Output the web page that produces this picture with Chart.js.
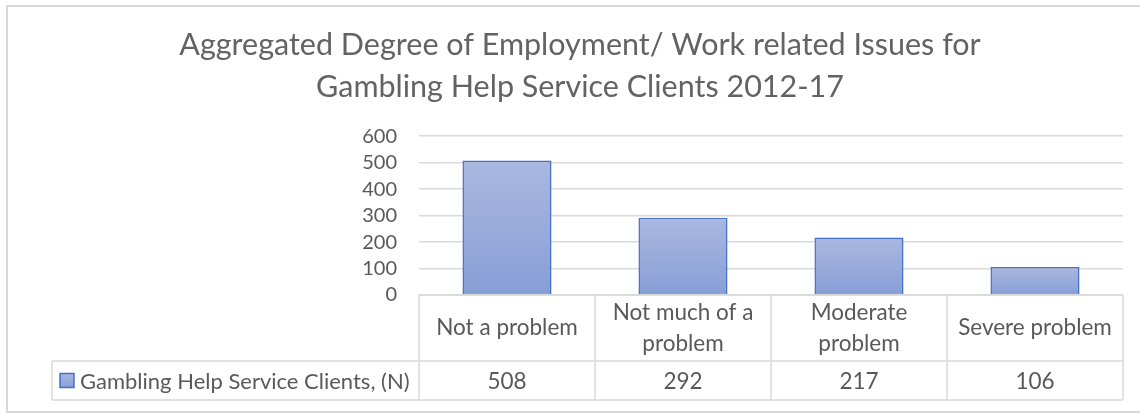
<!DOCTYPE html>
<html>
<head>
<meta charset="utf-8">
<title>Employment / Work related Issues</title>
<script src="https://cdn.jsdelivr.net/npm/chart.js@4/dist/chart.umd.min.js"></script>
<style>
  html, body { margin: 0; padding: 0; background: #fff; }
  #wrap { width: 1140px; height: 414px; }
</style>
</head>
<body>
<div id="wrap"><canvas id="chart" width="1140" height="414"></canvas></div>
<script>
// chart data
const categories = [
    ["Not a problem"],
    ["Not much of a", "problem"],
    ["Moderate", "problem"],
    ["Severe problem"]
];
const clients = [508, 292, 217, 106];
const seriesName = "Gambling Help Service Clients, (N)";
const titleLines = [
    "Aggregated Degree of Employment/ Work related Issues for",
    "Gambling Help Service Clients 2012-17"
];
const yTicks = [0, 100, 200, 300, 400, 500, 600];

const textColor = "#595959";
const lineColor = "#d9d9d9";
const fontFamily = "Lato, 'Noto Sans', sans-serif";

function barGradient(ctx, top, bottom) {
    const g = ctx.createLinearGradient(0, top, 0, bottom);
    g.addColorStop(0, "#aab8e0");
    g.addColorStop(1, "#879ed7");
    return g;
}

// draws the frame around the chart and the data table under the plot
const dataTable = {
    id: "dataTable",
    afterDraw(chart) {
        const ctx = chart.ctx;
        const area = chart.chartArea;
        const x = chart.scales.x;
        const catW = (area.right - area.left) / categories.length;
        const headTop = area.bottom;
        const rowTop = headTop + 66;
        const rowBottom = rowTop + 39;
        const legendLeft = 52;

        ctx.save();
        // outer frame
        ctx.strokeStyle = lineColor;
        ctx.lineWidth = 2;
        ctx.strokeRect(7, 6, 1160, 406);

        // table grid
        ctx.lineWidth = 1.5;
        ctx.beginPath();
        ctx.moveTo(area.left, headTop);
        ctx.lineTo(area.right, headTop);
        ctx.moveTo(legendLeft, rowTop);
        ctx.lineTo(area.right, rowTop);
        ctx.moveTo(legendLeft, rowBottom);
        ctx.lineTo(area.right, rowBottom);
        ctx.moveTo(legendLeft, rowTop);
        ctx.lineTo(legendLeft, rowBottom);
        for (let i = 0; i <= categories.length; i++) {
            const px = area.left + i * catW;
            ctx.moveTo(px, headTop);
            ctx.lineTo(px, rowBottom);
        }
        ctx.stroke();

        // category headers and values
        ctx.fillStyle = textColor;
        ctx.font = "22.5px " + fontFamily;
        ctx.textAlign = "center";
        ctx.textBaseline = "middle";
        const headMid = (headTop + rowTop) / 2;
        categories.forEach((lines, i) => {
            const cx = x.getPixelForValue(i);
            const lh = 31;
            const start = headMid - (lines.length - 1) * lh / 2;
            lines.forEach((t, j) => ctx.fillText(t, cx, start + j * lh));
            ctx.fillText(String(clients[i]), cx, (rowTop + rowBottom) / 2 + 1);
        });

        // legend key and series name
        const keyY = (rowTop + rowBottom) / 2 - 7;
        ctx.fillStyle = barGradient(ctx, keyY, keyY + 14);
        ctx.fillRect(60, keyY, 14, 14);
        ctx.strokeStyle = "#4472c4";
        ctx.lineWidth = 1.5;
        ctx.strokeRect(60, keyY, 14, 14);
        ctx.fillStyle = textColor;
        ctx.textAlign = "left";
        ctx.font = "22px " + fontFamily;
        ctx.fillText(seriesName, 80, (rowTop + rowBottom) / 2 + 1);
        ctx.restore();
    }
};

const ctx = document.getElementById("chart").getContext("2d");

new Chart(ctx, {
    type: "bar",
    data: {
        labels: categories,
        datasets: [{
            label: seriesName,
            data: clients,
            backgroundColor: function (context) {
                const chart = context.chart;
                if (!chart.chartArea) return "#98abdb";
                const top = chart.scales.y.getPixelForValue(context.raw);
                return barGradient(chart.ctx, top, chart.chartArea.bottom);
            },
            borderColor: "#4472c4",
            borderWidth: 1.5,
            borderSkipped: "bottom",
            categoryPercentage: 1,
            barPercentage: 0.506
        }]
    },
    options: {
        responsive: false,
        animation: false,
        layout: {
            padding: { left: 37, right: 17, top: 0, bottom: 119 }
        },
        plugins: {
            legend: { display: false },
            tooltip: { enabled: false },
            title: {
                display: true,
                text: titleLines,
                color: "#636363",
                font: { family: fontFamily, size: 30.5, weight: "normal", lineHeight: 1.38 },
                padding: { top: 24, bottom: 28 }
            }
        },
        scales: {
            x: {
                display: false
            },
            y: {
                min: 0,
                max: 600,
                afterBuildTicks(scale) {
                    scale.ticks = yTicks.map(v => ({ value: v }));
                },
                afterFit(scale) {
                    scale.width = 382;
                },
                border: { display: false },
                grid: {
                    color: lineColor,
                    lineWidth: 1.5,
                    drawTicks: false
                },
                ticks: {
                    autoSkip: false,
                    color: textColor,
                    padding: 22,
                    font: { family: fontFamily, size: 20 }
                }
            }
        }
    },
    plugins: [dataTable]
});
</script>
</body>
</html>
